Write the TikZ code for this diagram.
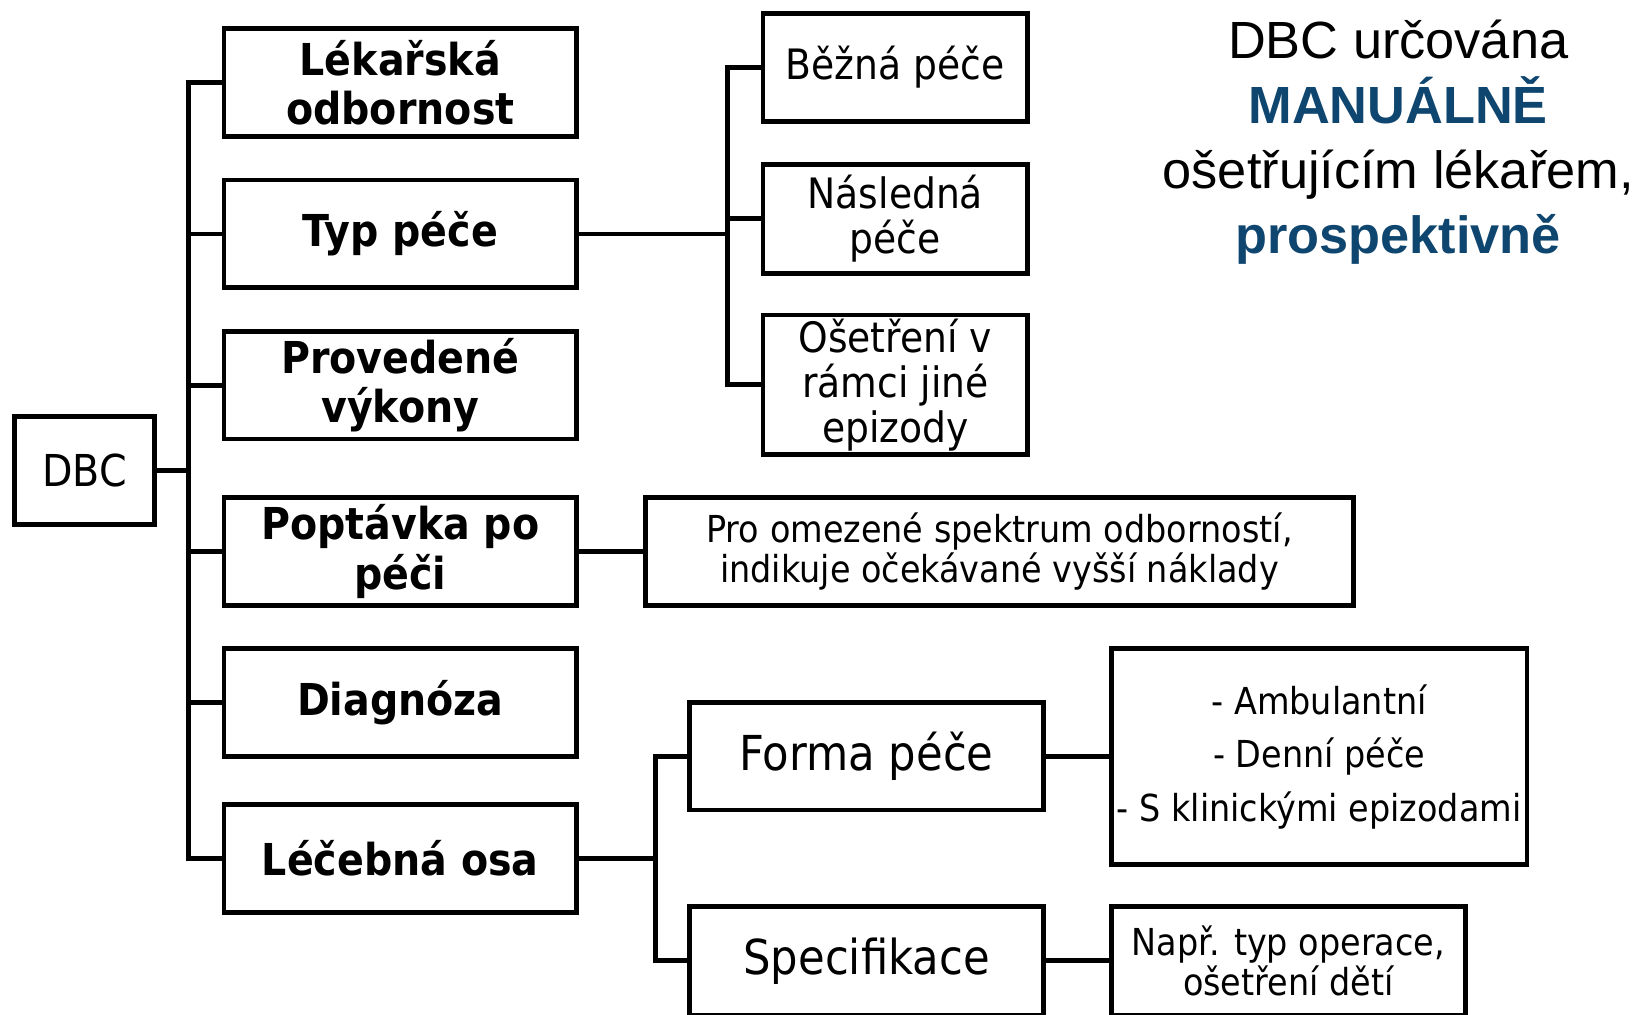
\documentclass[tikz,border=0pt]{standalone}
\usepackage{fontspec}
\setmainfont{DejaVu Sans}[FakeStretch=0.9]
\newfontfamily\arialfont{Liberation Sans}
\definecolor{accentblue}{HTML}{0F4670}
\begin{document}
\begin{tikzpicture}[x=1pt,y=-1pt,
  box/.style={draw, line width=4.6pt, inner sep=0pt, outer sep=0pt, align=center, minimum height=103pt},
  boldtxt/.style={font=\fontsize{42}{47}\selectfont\bfseries},
  normtxt/.style={font=\fontsize{40}{43}\selectfont},
  smalltxt/.style={font=\fontsize{35.5}{38}\selectfont},
  conn/.style={line width=4.6pt, line join=miter}]
\useasboundingbox (0,0) rectangle (1568,969);

% root
\node[box, font=\fontsize{42}{47}\selectfont, minimum width=134pt] (dbc) at (81,449.5) {DBC};

% first level
\node[box, boldtxt, minimum width=337pt] (lek)  at (382.5,79)    {Lékařská\\odbornost};
\node[box, boldtxt, minimum width=337pt] (typ)  at (382.5,223.5) {Typ péče};
\node[box, boldtxt, minimum width=337pt] (prov) at (382.5,368)   {Provedené\\výkony};
\node[box, boldtxt, minimum width=337pt] (popt) at (382.5,527)   {Poptávka po\\péči};
\node[box, boldtxt, minimum width=337pt] (diag) at (382.5,671.5) {Diagnóza};
\node[box, boldtxt, minimum width=337pt] (lecb) at (382.5,820.5) {Léčebná osa};

% type of care
\node[box, normtxt, minimum width=253pt] (bez)  at (855.5,64.5) {Běžná péče};
\node[box, normtxt, minimum width=253pt, minimum height=104pt] (nasl) at (855.5,209) {Následná\\péče};
\node[box, normtxt, minimum width=253pt, minimum height=133pt] (oset) at (855.5,367.5) {Ošetření v\\rámci jiné\\epizody};

% demand
\node[box, smalltxt, minimum width=676pt] (pro) at (955,527) {Pro omezené spektrum odborností,\\indikuje očekávané vyšší náklady};

% treatment axis
\node[box, font=\fontsize{46}{48}\selectfont, minimum width=338pt] (forma) at (828,722.5) {Forma péče};
\node[box, font=\fontsize{46}{48}\selectfont, minimum width=338pt, minimum height=104pt] (spec) at (828,918) {Specifikace};
\node[box, font=\fontsize{35.5}{51}\selectfont, minimum width=397pt, minimum height=206pt] (amb) at (1260.5,723) {- Ambulantní\\- Denní péče\\- S klinickými epizodami};
\node[box, smalltxt, minimum width=338pt, minimum height=104pt] (napr) at (1231,918) {Např. typ operace,\\ošetření dětí};

% connectors: root
\draw[conn] (lek.west) -- ++(-34,0) coordinate (tr) |- (lecb.west);
\draw[conn] (typ.west) -- ++(-34,0);
\draw[conn] (prov.west) -- ++(-34,0);
\draw[conn] (popt.west) -- ++(-34,0);
\draw[conn] (diag.west) -- ++(-34,0);
\draw[conn] (dbc.east) -- (dbc.east -| tr);

% connectors: type of care
\draw[conn] (bez.west) -- ++(-34,0) coordinate (tc) |- (oset.west);
\draw[conn] (nasl.west) -- ++(-34,0);
\draw[conn] (typ.east) -- (typ.east -| tc);

% connector: demand
\draw[conn] (popt.east) -- (pro.west);

% connectors: treatment axis
\draw[conn] (forma.west) -- ++(-33,0) coordinate (la) |- (spec.west);
\draw[conn] (lecb.east) -- (lecb.east -| la);
\draw[conn] (forma.east) -- (amb.west |- forma.east);
\draw[conn] (spec.east) -- (napr.west);

% heading text
\node[font=\arialfont\fontsize{50}{62}\selectfont, align=center, inner sep=0pt] (head) at (1336,136)
  {DBC určována\\\textcolor{accentblue}{\bfseries MANUÁLNĚ}\\ošetřujícím lékařem,\\\textcolor{accentblue}{\bfseries prospektivně}};
\end{tikzpicture}
\end{document}
